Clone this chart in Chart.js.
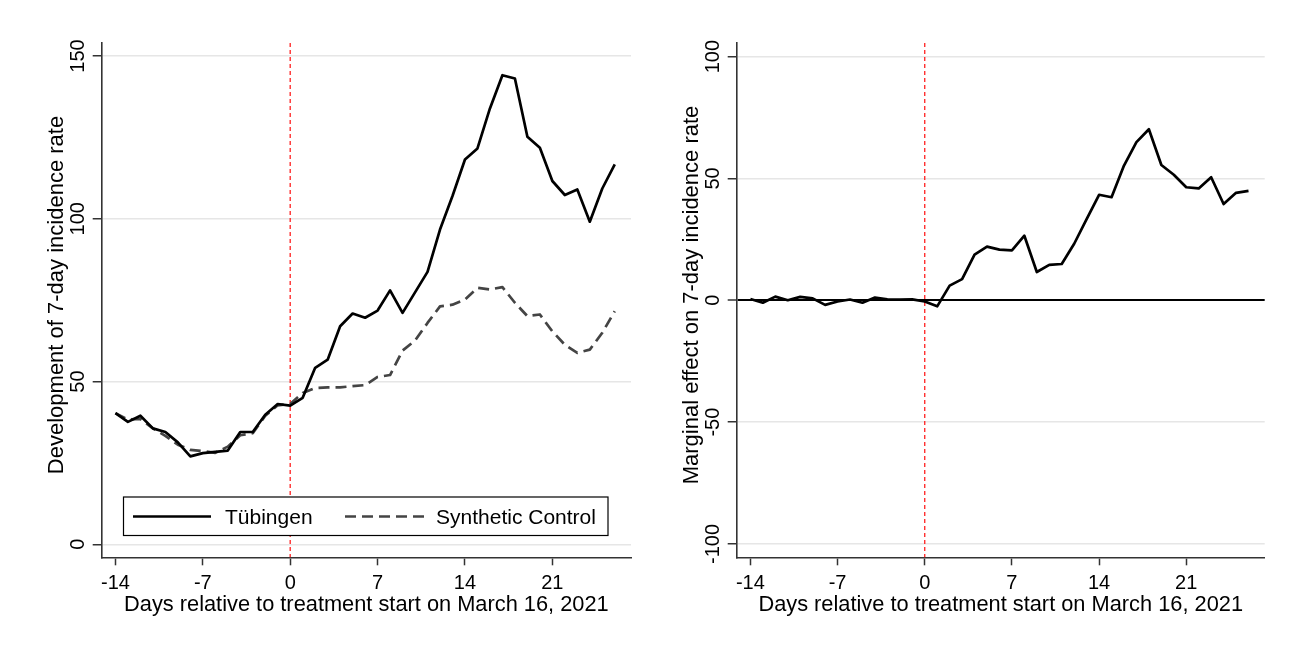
<!DOCTYPE html>
<html>
<head>
<meta charset="utf-8">
<script src="https://cdn.jsdelivr.net/npm/chart.js@4.4.0/dist/chart.umd.min.js"></script>
<style>
  body { margin: 0; background: #fff; }
  #wrap { position: relative; width: 1296px; height: 652px; }
  canvas { position: absolute; top: 0; }
</style>
</head>
<body>
<div id="wrap">
  <canvas id="left" width="648" height="652" style="left:0"></canvas>
  <canvas id="right" width="648" height="652" style="left:648px"></canvas>
</div>
<script>
const days = [-14, -13, -12, -11, -10, -9, -8, -7, -6, -5, -4, -3, -2, -1, 0,
  1, 2, 3, 4, 5, 6, 7, 8, 9, 10, 11, 12, 13, 14, 15, 16, 17, 18, 19, 20, 21, 22, 23, 24, 25, 26];

const tuebingen = [40.3, 37.6, 39.5, 35.6, 34.5, 31.3, 27.0, 28.0, 28.4, 28.8, 34.5, 34.5, 39.8, 43.1, 42.6,
  45.0, 54.2, 56.7, 67.0, 70.9, 69.6, 71.8, 78.0, 71.1, 77.4, 83.7, 96.7, 107.0, 118.2, 121.6,
  133.9, 144.1, 143.1, 125.2, 121.8, 111.6, 107.3, 109.0, 99.1, 109.3, 116.7];

const synthetic = [40.3, 38.3, 38.5, 35.6, 33.3, 30.6, 29.0, 28.6, 28.1, 30.0, 33.5, 34.1, 39.5, 42.7, 43.1,
  46.5, 48.0, 48.2, 48.2, 48.6, 48.9, 51.4, 52.0, 59.5, 62.6, 68.0, 73.1, 73.6, 75.2, 78.8,
  78.3, 79.0, 74.2, 70.1, 70.6, 65.4, 61.3, 58.8, 59.8, 65.0, 71.6];

const marginal = [0.5, -1.0, 1.5, 0.0, 1.4, 0.8, -1.9, -0.5, 0.3, -1.0, 1.1, 0.4, 0.3, 0.4, -0.5,
  -2.5, 6.0, 8.7, 18.7, 22.0, 20.8, 20.5, 26.5, 11.6, 14.5, 14.9, 23.2, 33.3, 43.3, 42.3,
  55.3, 64.9, 70.2, 55.5, 51.5, 46.4, 45.9, 50.5, 39.5, 44.1, 44.9];

const xTicks = [-14, -7, 0, 7, 14, 21];
const leftTicks = [0, 50, 100, 150];
const rightTicks = [-100, -50, 0, 50, 100];

const FONT = "'Liberation Sans', Arial, sans-serif";
const xTitle = "Days relative to treatment start on March 16, 2021";

const points = (vals) => days.map((d, i) => ({ x: d, y: vals[i] }));

// red dashed line at day 0, rotated y labels and y title
const stataBits = {
  id: "stataBits",
  beforeDatasetsDraw(chart) {
    const ctx = chart.ctx;
    const area = chart.chartArea;
    const x0 = chart.scales.x.getPixelForValue(0);
    ctx.save();
    ctx.strokeStyle = "#ff2020";
    ctx.lineWidth = 1.3;
    ctx.setLineDash([4, 3]);
    ctx.beginPath();
    ctx.moveTo(x0, area.top);
    ctx.lineTo(x0, area.bottom);
    ctx.stroke();
    ctx.restore();
  },
  afterDraw(chart) {
    const ctx = chart.ctx;
    const area = chart.chartArea;
    const y = chart.scales.y;
    const opts = chart.options.plugins.stataBits;
    ctx.save();
    ctx.fillStyle = "#000";
    ctx.textAlign = "center";
    ctx.textBaseline = "alphabetic";
    ctx.font = "20px " + FONT;
    y.ticks.forEach((t) => {
      ctx.save();
      ctx.translate(area.left - 17.5, y.getPixelForValue(t.value));
      ctx.rotate(-Math.PI / 2);
      ctx.fillText(String(t.value), 0, 0);
      ctx.restore();
    });
    ctx.font = "22px " + FONT;
    ctx.translate(opts.titleX, opts.titleY);
    ctx.rotate(-Math.PI / 2);
    ctx.fillText(opts.title, 0, 0);
    ctx.restore();
  }
};

// legend box drawn inside the plot like Stata's
const boxLegend = {
  id: "boxLegend",
  afterDatasetsDraw(chart) {
    const opts = chart.options.plugins.boxLegend;
    if (!opts || !opts.show) return;
    const ctx = chart.ctx;
    const ds = chart.data.datasets;
    ctx.save();
    ctx.fillStyle = "#fff";
    ctx.fillRect(123.5, 497, 484.5, 38.5);
    ctx.strokeStyle = "#000";
    ctx.lineWidth = 1.2;
    ctx.strokeRect(123.5, 497, 484.5, 38.5);
    const items = [
      { x1: 133, x2: 211, tx: 225 },
      { x1: 345, x2: 425, tx: 436 }
    ];
    items.forEach((it, i) => {
      ctx.strokeStyle = ds[i].borderColor;
      ctx.lineWidth = ds[i].borderWidth;
      ctx.setLineDash(ds[i].borderDash || []);
      ctx.beginPath();
      ctx.moveTo(it.x1, 516.5);
      ctx.lineTo(it.x2, 516.5);
      ctx.stroke();
      ctx.setLineDash([]);
      ctx.fillStyle = "#000";
      ctx.font = "21px " + FONT;
      ctx.textBaseline = "alphabetic";
      ctx.fillText(ds[i].label, it.tx, 524.3);
    });
    ctx.restore();
  }
};

function makeChart(id, datasets, yMin, yMax, yTicks, cfg) {
  return new Chart(document.getElementById(id), {
    type: "line",
    data: { datasets },
    plugins: [stataBits, boxLegend],
    options: {
      responsive: false,
      animation: false,
      devicePixelRatio: 1,
      layout: { padding: { top: 43, right: cfg.padRight, left: 0, bottom: 0 } },
      elements: {
        point: { radius: 0 },
        line: { tension: 0, borderJoinStyle: "round", borderCapStyle: "butt" }
      },
      plugins: {
        legend: { display: false },
        tooltip: { enabled: false },
        stataBits: { title: cfg.yTitle, titleX: cfg.titleX, titleY: 295 },
        boxLegend: { show: cfg.legend }
      },
      scales: {
        x: {
          type: "linear",
          min: -15.1,
          max: 27.3,
          afterBuildTicks: (s) => { s.ticks = xTicks.map((v) => ({ value: v })); },
          afterFit: (s) => { s.height = 94.7; },
          grid: { drawOnChartArea: false, tickLength: 8, tickColor: "#333", tickWidth: 1.5 },
          border: { color: "#333", width: 1.6 },
          ticks: { color: "#000", font: { family: FONT, size: 20 }, padding: 6, maxRotation: 0 },
          title: { display: true, text: xTitle, color: "#000", font: { family: FONT, size: 21.8 },
            padding: { top: 0, bottom: 34 } }
        },
        y: {
          type: "linear",
          min: yMin,
          max: yMax,
          afterBuildTicks: (s) => { s.ticks = yTicks.map((v) => ({ value: v })); },
          afterFit: (s) => { s.width = cfg.yWidth; },
          grid: {
            color: (c) => (cfg.zeroLine && c.tick && c.tick.value === 0 ? "#000" : "#e6e6e6"),
            lineWidth: (c) => (cfg.zeroLine && c.tick && c.tick.value === 0 ? 2 : 1.5),
            tickLength: 9, tickColor: "#333", tickWidth: 1.5
          },
          border: { color: "#333", width: 1.6 },
          ticks: { display: false }
        }
      }
    }
  });
}

makeChart("left", [
  { label: "Tübingen", data: points(tuebingen), borderColor: "#000", borderWidth: 2.7 },
  { label: "Synthetic Control", data: points(synthetic), borderColor: "#444", borderWidth: 2.7, borderDash: [11, 6] }
], -4.0, 154.0, leftTicks,
  { padRight: 17, yWidth: 101.7, yTitle: "Development of 7-day incidence rate", titleX: 63, zeroLine: false, legend: true });

makeChart("right", [
  { label: "Marginal effect", data: points(marginal), borderColor: "#000", borderWidth: 2.7 }
], -105.5, 105.6, rightTicks,
  { padRight: 31.3, yWidth: 88.7, yTitle: "Marginal effect on 7-day incidence rate", titleX: 50, zeroLine: true, legend: false });
</script>
</body>
</html>
